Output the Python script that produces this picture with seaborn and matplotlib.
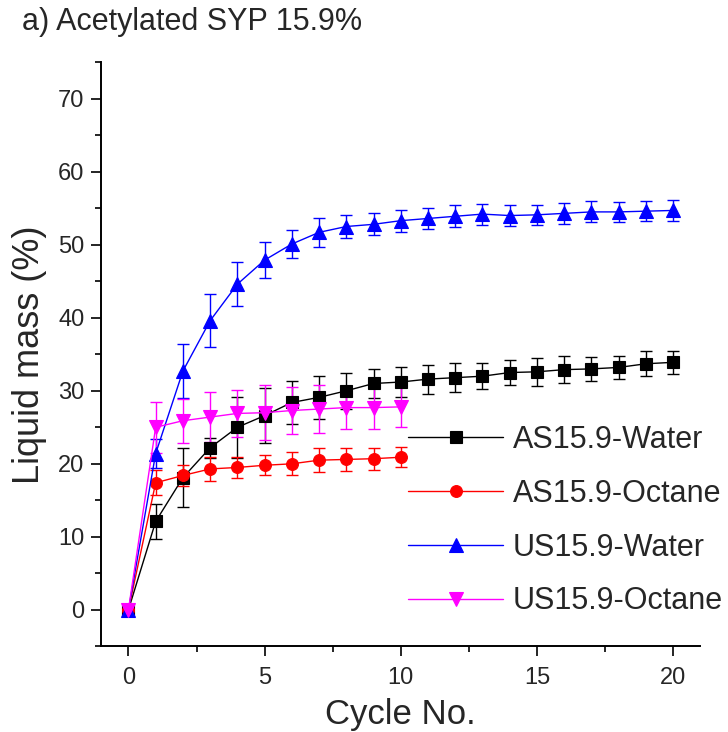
import matplotlib
matplotlib.use("Agg")
import matplotlib.pyplot as plt
import seaborn as sns
from matplotlib.ticker import MultipleLocator

# ---- data ----
cycles_long = list(range(0, 21))
cycles_short = list(range(0, 11))

as_water = [0, 12.1, 18.1, 22.2, 25.0, 26.6, 28.4, 29.1, 30.0, 31.0, 31.2,
            31.6, 31.8, 32.0, 32.5, 32.6, 32.9, 33.0, 33.2, 33.7, 33.9]
as_water_err = [0, 2.4, 4.0, 1.4, 4.2, 3.8, 3.0, 2.9, 2.5, 2.0, 2.0,
                2.0, 2.0, 1.8, 1.7, 1.9, 1.8, 1.6, 1.6, 1.7, 1.6]

as_octane = [0, 17.4, 18.4, 19.3, 19.5, 19.8, 20.0, 20.5, 20.6, 20.7, 20.9]
as_octane_err = [0, 1.7, 1.5, 1.6, 1.5, 1.4, 1.6, 1.6, 1.6, 1.5, 1.4]

us_water = [0, 21.4, 32.7, 39.6, 44.6, 47.9, 50.1, 51.7, 52.5, 52.8, 53.3,
            53.6, 53.9, 54.2, 54.0, 54.1, 54.3, 54.5, 54.5, 54.6, 54.7]
us_water_err = [0, 2.0, 3.7, 3.6, 3.0, 2.5, 1.9, 2.0, 1.6, 1.5, 1.5,
                1.5, 1.5, 1.45, 1.4, 1.4, 1.45, 1.45, 1.4, 1.4, 1.45]

us_octane = [0, 25.0, 25.9, 26.4, 26.9, 27.0, 27.3, 27.5, 27.7, 27.7, 27.8]
us_octane_err = [0, 3.5, 3.0, 3.4, 3.2, 3.8, 3.2, 3.3, 3.0, 2.9, 2.8]

labels = ["AS15.9-Water", "AS15.9-Octane", "US15.9-Water", "US15.9-Octane"]
colors = ["#000000", "#ff0000", "#0000ff", "#ff00ff"]
markers = ["s", "o", "^", "v"]
msizes = [8, 8.5, 9.5, 9.5]

x_ticks = [0, 5, 10, 15, 20]
y_ticks = [0, 10, 20, 30, 40, 50, 60, 70]

series = [
    (cycles_long, as_water, as_water_err),
    (cycles_short, as_octane, as_octane_err),
    (cycles_long, us_water, us_water_err),
    (cycles_short, us_octane, us_octane_err),
]

# ---- style ----
sns.set_style("ticks")
plt.rcParams['font.family'] = ['Liberation Sans', 'DejaVu Sans']

fig = plt.figure(figsize=(7.28, 7.32), dpi=100)
ax = fig.add_axes([0.139, 0.117, 0.823, 0.798])

handles = []
for (xs, ys, es), lab, col, mk, ms in zip(series, labels, colors, markers, msizes):
    ax.errorbar(xs, ys, yerr=es, fmt='none', ecolor=col, elinewidth=1.0,
                capsize=4.5, capthick=1.0, zorder=2)
    sns.lineplot(x=xs, y=ys, ax=ax, color=col, marker=mk, markersize=ms,
                 markeredgecolor=col, markeredgewidth=0.8, linewidth=1.0,
                 label=lab, legend=False, errorbar=None, zorder=3)
    handles.append(ax.get_lines()[-1])

ax.set_xlim(-1, 21)
ax.set_ylim(-5, 75)
ax.set_xticks(x_ticks)
ax.set_yticks(y_ticks)
ax.xaxis.set_minor_locator(MultipleLocator(2.5))
ax.yaxis.set_minor_locator(MultipleLocator(5))

sns.despine(ax=ax)
for sp in ["left", "bottom"]:
    ax.spines[sp].set_linewidth(1.4)
    ax.spines[sp].set_color("black")

ax.tick_params(axis="both", which="major", direction="out", length=7,
               width=1.2, labelsize=17, color="black")
ax.tick_params(axis="x", which="major", pad=8)
ax.tick_params(axis="y", which="major", pad=5)
ax.tick_params(axis="both", which="minor", direction="out", length=4,
               width=1.2, color="black")

ax.set_xlabel("Cycle No.", fontsize=25, labelpad=6)
ax.set_ylabel("Liquid mass (%)", fontsize=26, labelpad=8)

fig.text(22 / 728, 1 - 22 / 732, "a) Acetylated SYP 15.9%", fontsize=22,
         ha="left", va="center")

ax.legend(handles, labels, loc="upper left", bbox_to_anchor=(0.5125, 0.379),
          frameon=False, fontsize=22, handlelength=3.1, handletextpad=0.33,
          labelspacing=0.78, borderpad=0, borderaxespad=0, numpoints=1)

fig.savefig("out.png", dpi=100)
